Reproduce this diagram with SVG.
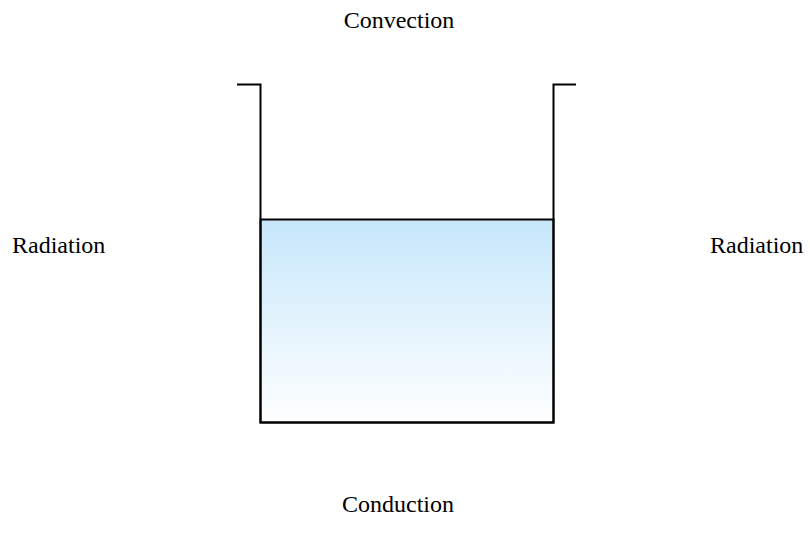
<svg xmlns="http://www.w3.org/2000/svg" width="810" height="552" viewBox="0 0 810 552">
<style>
.t{font-family:"Liberation Serif","Times New Roman",serif;font-size:24px;fill:#000}
.w{fill:none;stroke:#000;stroke-width:2}
</style>
<defs>
<linearGradient id="g" x1="0" y1="0" x2="0" y2="1">
<stop offset="0" stop-color="#c6e7fb"/>
<stop offset="1" stop-color="#ffffff"/>
</linearGradient>
</defs>
<rect width="810" height="552" fill="#fff"/>
<g id="water"><rect x="260.5" y="219.5" width="293" height="203" fill="url(#g)" stroke="#000" stroke-width="2"/></g>
<g id="container"><path class="w" d="M237 84.5H260.5V422.5H553.5V84.5H576"/></g>
<g id="labels">
<text class="t" x="399" y="28" text-anchor="middle">Convection</text>
<text class="t" x="12" y="253">Radiation</text>
<text class="t" x="710" y="253">Radiation</text>
<text class="t" x="398" y="512" text-anchor="middle">Conduction</text>
</g>
</svg>
